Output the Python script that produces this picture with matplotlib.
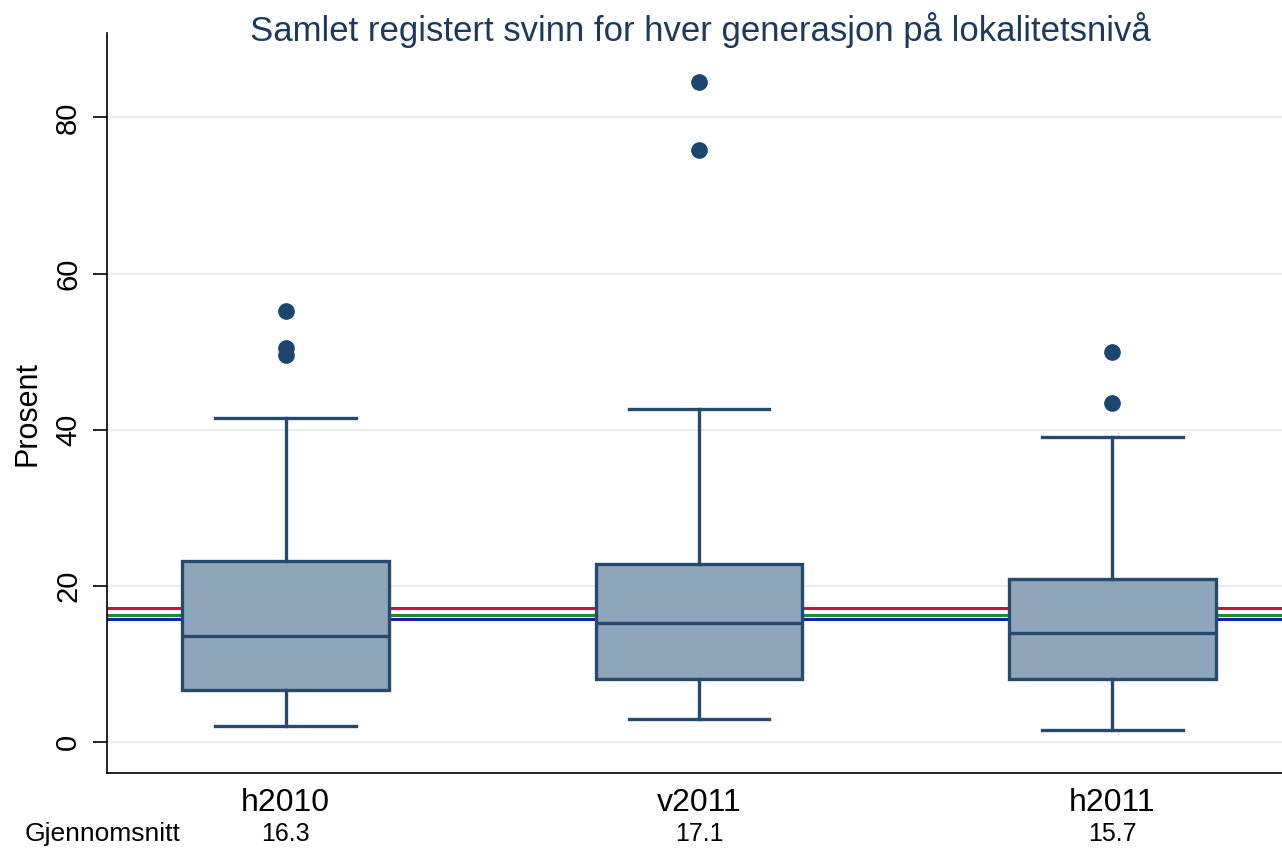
import matplotlib.pyplot as plt
from matplotlib.transforms import blended_transform_factory

plt.rcParams['font.family'] = ['Liberation Sans', 'DejaVu Sans']

groups = ["h2010", "v2011", "h2011"]
q1 = [6.7, 8.1, 8.1]
med = [13.6, 15.2, 13.9]
q3 = [23.2, 22.8, 20.9]
wlo = [2.05, 2.9, 1.5]
whi = [41.5, 42.6, 39.0]
outliers = [[55.2, 50.4, 49.5], [84.5, 75.8], [50.0, 43.4]]
means = [16.3, 17.1, 15.7]
mean_colors = ["#1f8a2e", "#c8143c", "#1c1ca8"]

navy = "#264a6e"
fill = "#8fa5ba"

fig = plt.figure(figsize=(12.82, 8.49), dpi=100)
ax = fig.add_axes([0.0835, 0.0895, 0.9165, 0.8715])

# mean lines behind the boxes
for m, c in zip(means, mean_colors):
    ax.axhline(m, color=c, lw=2.2, zorder=1)

stats = []
for i, g in enumerate(groups):
    stats.append(dict(label=g, q1=q1[i], med=med[i], q3=q3[i],
                      whislo=wlo[i], whishi=whi[i], fliers=outliers[i]))

ax.bxp(stats, positions=[1, 2, 3], widths=0.5, capwidths=0.34,
       patch_artist=True, showfliers=True,
       boxprops=dict(facecolor=fill, edgecolor=navy, lw=2.4),
       medianprops=dict(color=navy, lw=2.4),
       whiskerprops=dict(color=navy, lw=2.4),
       capprops=dict(color=navy, lw=2.4),
       flierprops=dict(marker='o', markerfacecolor="#1a4670",
                       markeredgecolor="#1a4670", markersize=11),
       zorder=3)

ax.set_xlim(0.568, 3.41)
ax.set_ylim(-4, 90.8)
ax.set_yticks([0, 20, 40, 60, 80])
ax.set_yticklabels(["0", "20", "40", "60", "80"], rotation=90, va='center',
                   fontsize=21)
ax.tick_params(axis='y', length=10, width=1.2, pad=8)
ax.tick_params(axis='x', length=0, labelsize=23, pad=11)
ax.grid(axis='y', color='#e8ecee', lw=1.5, zorder=0)
ax.set_axisbelow(True)
for s in ['top', 'right']:
    ax.spines[s].set_visible(False)
for s in ['left', 'bottom']:
    ax.spines[s].set_linewidth(1.2)

ax.set_ylabel("Prosent", fontsize=22, va='center')
ax.yaxis.set_label_coords(-0.068, 0.486)
fig.text(0.546, 0.952, "Samlet registert svinn for hver generasjon på lokalitetsnivå",
         ha='center', va='baseline', fontsize=25, color="#1e3a5a")

tr = blended_transform_factory(ax.transData, fig.transFigure)
for i, m in enumerate(means):
    ax.text(i + 1, 0.018, f"{m:.1f}", transform=tr, ha='center', va='center',
            fontsize=18)
fig.text(0.080, 0.018, "Gjennomsnitt", ha='center', va='center', fontsize=19)

fig.savefig("out.png", dpi=100)
